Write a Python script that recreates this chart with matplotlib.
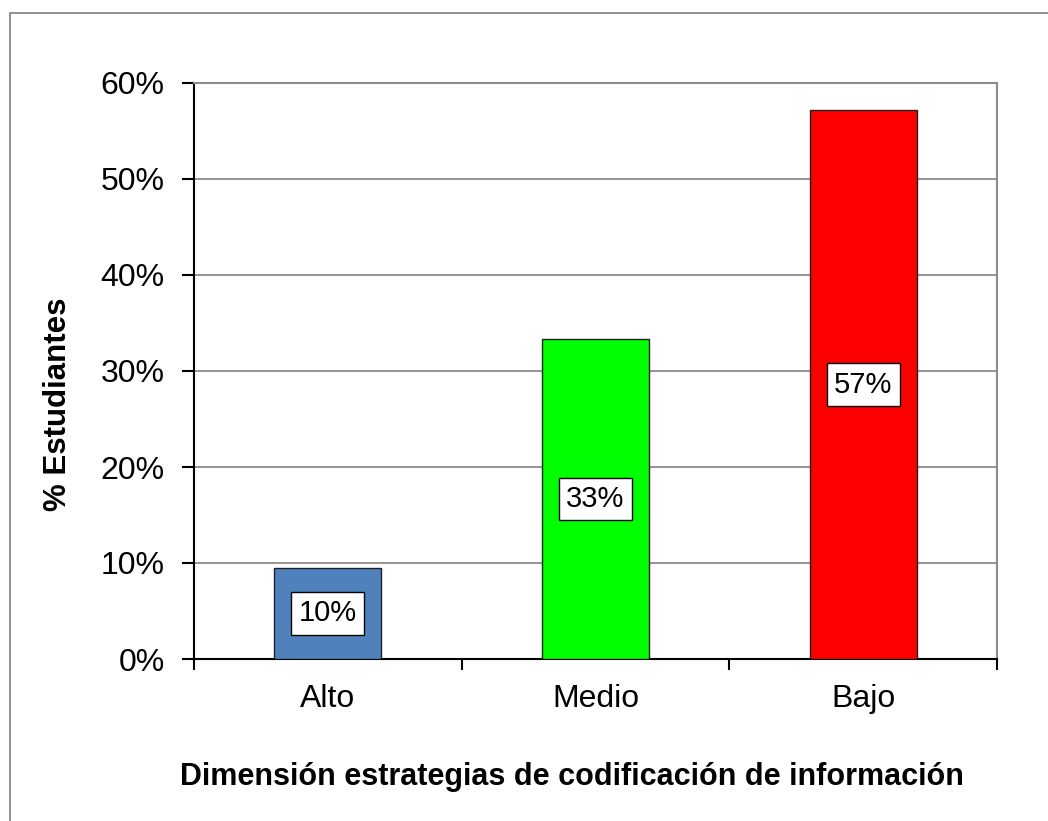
import matplotlib
matplotlib.use("Agg")
import matplotlib.pyplot as plt
from matplotlib.patches import Rectangle
from matplotlib.ticker import FixedLocator, PercentFormatter

categories = ["Alto", "Medio", "Bajo"]
values = [9.52, 33.33, 57.14]
labels = ["10%", "33%", "57%"]
colors = ["#4F81BD", "#00FF00", "#FF0000"]

plt.rcParams['font.family'] = ['Liberation Sans', 'DejaVu Sans']

fig = plt.figure(figsize=(10.48, 8.21), dpi=100)
ax = fig.add_axes([194/1048, 1-659/821, (997-194)/1048, (659-83)/821])

# outer chart frame (only top/left edge visible)
fig.patches.append(Rectangle((10/1048, -0.1), 1.2, 1-13/821+0.1,
                             transform=fig.transFigure, fill=False,
                             edgecolor="#7f7f7f", lw=1.2))

x = list(range(len(categories)))
bars = ax.bar(x, values, width=0.4, color=colors, edgecolor="#202020", lw=1, zorder=3)

for b, lab in zip(bars, labels):
    ax.text(b.get_x() + b.get_width()/2, b.get_height()/2, lab,
            ha="center", va="center", fontsize=21, zorder=4,
            bbox=dict(boxstyle="square,pad=0.25", fc="white", ec="black", lw=1))

ax.set_xlim(-0.5, 2.5)
ax.set_ylim(0, 60)
ax.set_yticks(range(0, 61, 10))
ax.yaxis.set_major_formatter(PercentFormatter(decimals=0))
ax.set_xticks(x)
ax.set_xticklabels(categories, fontsize=23)
ax.xaxis.set_minor_locator(FixedLocator([-0.5, 0.5, 1.5, 2.5]))
ax.tick_params(axis="x", which="major", length=0, pad=18)
ax.tick_params(axis="x", which="minor", length=8, width=1.5, direction="out")
ax.tick_params(axis="y", labelsize=23, length=9, width=1.5, direction="out", pad=12)

ax.grid(axis="y", color="#8c8c8c", lw=1.3, zorder=0)
for s in ["top", "right"]:
    ax.spines[s].set_color("#8c8c8c")
    ax.spines[s].set_linewidth(1.5)
for s in ["left", "bottom"]:
    ax.spines[s].set_color("black")
    ax.spines[s].set_linewidth(1.5)

fig.text(58/1048, 1-404/821, "% Estudiantes", rotation=90, fontsize=22.5,
         fontweight="bold", ha="center", va="center")
fig.text(572/1048, 1-777/821, "Dimensión estrategias de codificación de información",
         fontsize=22, fontweight="bold", ha="center", va="center")

fig.savefig("out.png", dpi=100)
